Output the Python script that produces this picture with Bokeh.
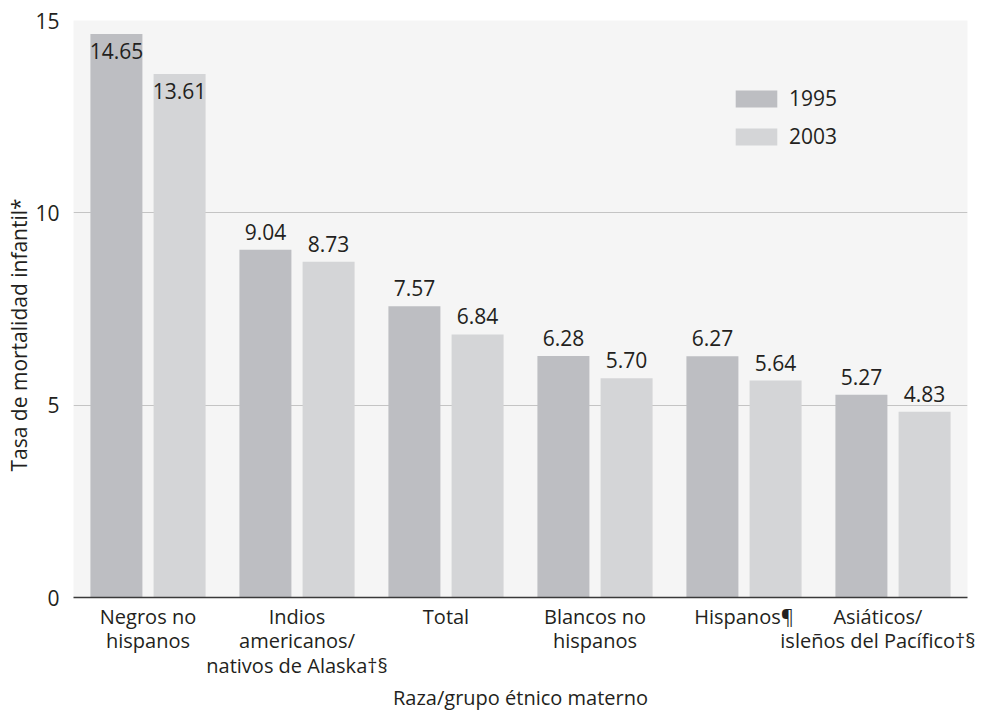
from bokeh.plotting import figure
from bokeh.models import ColumnDataSource, FactorRange, Legend, LegendItem, Range1d, FixedTicker, Title
from bokeh.transform import dodge
from bokeh.embed import file_html
from bokeh.resources import INLINE

categories = ["Negros no\nhispanos", "Indios\namericanos/\nnativos de Alaska†§", "Total",
              "Blancos no\nhispanos", "Hispanos¶", "Asiáticos/\nisleños del Pacífico†§"]
vals_1995 = [14.65, 9.04, 7.57, 6.28, 6.27, 5.27]
vals_2003 = [13.61, 8.73, 6.84, 5.70, 5.64, 4.83]
labels_1995 = ["14.65", "9.04", "7.57", "6.28", "6.27", "5.27"]
labels_2003 = ["13.61", "8.73", "6.84", "5.70", "5.64", "4.83"]
series = ["1995", "2003"]
y_ticks = [0, 5, 10, 15]

FONT = "Open Sans"
TXT = "#231f20"
C1995 = "#bdbec2"
C2003 = "#d4d5d7"

p = figure(x_range=FactorRange(*categories), y_range=Range1d(0, 15),
           width=975, height=714, output_backend="svg", toolbar_location=None,
           min_border_left=73, min_border_right=8, min_border_top=20, min_border_bottom=110)
p.background_fill_color = "#f5f5f5"
p.border_fill_color = "white"
p.outline_line_color = None

src = ColumnDataSource(dict(cat=categories, v1995=vals_1995, v2003=vals_2003,
                            l1995=labels_1995, l2003=labels_2003))

r1 = p.vbar(x=dodge("cat", -0.212, range=p.x_range), top="v1995", width=0.349, source=src,
            fill_color=C1995, line_color=None)
r2 = p.vbar(x=dodge("cat", 0.212, range=p.x_range), top="v2003", width=0.349, source=src,
            fill_color=C2003, line_color=None)

# value labels: inside bar top when the bar reaches the top of the chart, otherwise above
for key, lab, off in (("v1995", "l1995", -0.212), ("v2003", "l2003", 0.212)):
    vals = src.data[key]
    labs = src.data[lab]
    inside = [i for i, v in enumerate(vals) if v > 12]
    above = [i for i, v in enumerate(vals) if v <= 12]
    s_in = ColumnDataSource(dict(cat=[categories[i] for i in inside], v=[vals[i] for i in inside],
                                 t=[labs[i] for i in inside]))
    s_ab = ColumnDataSource(dict(cat=[categories[i] for i in above], v=[vals[i] for i in above],
                                 t=[labs[i] for i in above]))
    p.text(x=dodge("cat", off, range=p.x_range), y="v", text="t", source=s_in,
           text_align="center", text_baseline="alphabetic", y_offset=17,
           text_font={"value": FONT}, text_font_size="21px", text_color=TXT)
    p.text(x=dodge("cat", off, range=p.x_range), y="v", text="t", source=s_ab,
           text_align="center", text_baseline="alphabetic", y_offset=-18,
           text_font={"value": FONT}, text_font_size="21px", text_color=TXT)

# grid
p.xgrid.grid_line_color = None
p.ygrid.ticker = FixedTicker(ticks=y_ticks[1:])
p.ygrid.grid_line_color = "#c4c4c4"
p.ygrid.grid_line_width = 1

# axes
p.yaxis.ticker = FixedTicker(ticks=y_ticks)
p.yaxis.axis_line_color = None
p.yaxis.major_tick_line_color = None
p.yaxis.minor_tick_line_color = None
p.yaxis.major_tick_out = 0
p.yaxis.major_tick_in = 0
p.yaxis.major_label_standoff = 14
p.yaxis.major_label_text_font = FONT
p.yaxis.major_label_text_font_size = "21px"
p.yaxis.major_label_text_color = TXT

p.xaxis.axis_line_color = "#3a3a3a"
p.xaxis.axis_line_width = 1.5
p.xaxis.major_tick_line_color = None
p.xaxis.major_tick_out = 0
p.xaxis.major_tick_in = 0
p.xaxis.major_label_standoff = 5
p.xaxis.major_label_text_font = FONT
p.xaxis.major_label_text_font_size = "20px"
p.xaxis.major_label_text_line_height = 0.92
p.xaxis.major_label_text_color = TXT
p.xaxis.axis_label = "Raza/grupo étnico materno"
p.xaxis.axis_label_text_font = FONT
p.xaxis.axis_label_text_font_size = "20px"
p.xaxis.axis_label_text_font_style = "normal"
p.xaxis.axis_label_text_color = TXT
p.xaxis.axis_label_standoff = 2

p.add_layout(Title(text="Tasa de mortalidad infantil*", align="left", offset=126,
                   text_font=FONT, text_font_size="21px", text_font_style="normal",
                   text_color=TXT, standoff=0), "left")

legend = Legend(items=[LegendItem(label=series[0], renderers=[r1]),
                       LegendItem(label=series[1], renderers=[r2])],
                location=(657, 447), orientation="vertical",
                glyph_width=52, glyph_height=21, label_height=21, label_standoff=7,
                spacing=10, padding=0, margin=0,
                border_line_color=None, background_fill_alpha=0,
                label_text_font=FONT, label_text_font_size="21px", label_text_color=TXT)
p.add_layout(legend)

open("out.html", "w").write(file_html(p, INLINE))
